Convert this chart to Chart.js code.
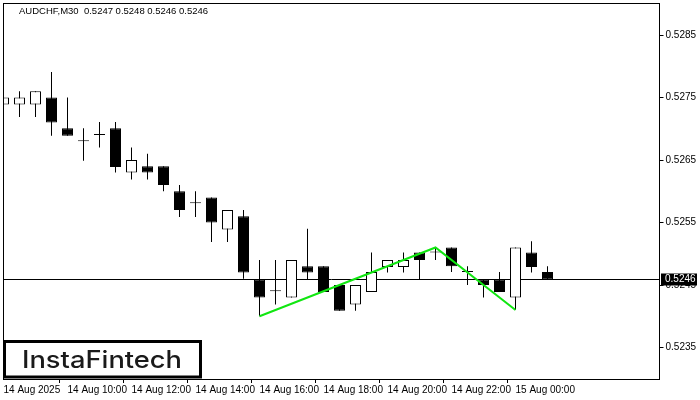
<!DOCTYPE html>
<html>
<head>
<meta charset="utf-8">
<script src="https://cdn.jsdelivr.net/npm/chart.js@4.4.1/dist/chart.umd.min.js"></script>
<style>
  html, body { margin: 0; padding: 0; background: #fff; }
  canvas { display: block; }
</style>
</head>
<body>
<canvas id="chart" width="700" height="400"></canvas>
<script>
const symbolTitle = "AUDCHF,M30  0.5247 0.5248 0.5246 0.5246";
const logoText = "InstaFintech";

// one label every 4 bars (2 hours of M30)
const xTickLabels = [
  "14 Aug 2025", "14 Aug 10:00", "14 Aug 12:00", "14 Aug 14:00", "14 Aug 16:00",
  "14 Aug 18:00", "14 Aug 20:00", "14 Aug 22:00", "15 Aug 00:00"
];
const barsPerLabel = 4;
const slotCount = 42;

const opens = [
  0.52739, 0.52739, 0.52739, 0.52750, 0.52701, 0.52680, 0.52690, 0.52701, 0.52630, 0.52640,
  0.52640, 0.52600, 0.52581, 0.52590, 0.52539, 0.52560, 0.52459, 0.52440, 0.52430, 0.52480,
  0.52480, 0.52450, 0.52419, 0.52439, 0.52479, 0.52479, 0.52502, 0.52502, 0.52510, 0.52471,
  0.52459, 0.52459, 0.52430, 0.52502, 0.52471
];
const highs = [
  0.52781, 0.52760, 0.52760, 0.52791, 0.52750, 0.52701, 0.52711, 0.52711, 0.52670, 0.52660,
  0.52640, 0.52610, 0.52600, 0.52590, 0.52570, 0.52570, 0.52490, 0.52490, 0.52490, 0.52540,
  0.52480, 0.52450, 0.52450, 0.52502, 0.52490, 0.52502, 0.52502, 0.52510, 0.52510, 0.52480,
  0.52459, 0.52471, 0.52510, 0.52520, 0.52480
];
const lows = [
  0.52739, 0.52719, 0.52719, 0.52689, 0.52689, 0.52649, 0.52670, 0.52630, 0.52619, 0.52619,
  0.52600, 0.52559, 0.52559, 0.52519, 0.52519, 0.52460, 0.52400, 0.52419, 0.52430, 0.52459,
  0.52439, 0.52409, 0.52409, 0.52439, 0.52470, 0.52470, 0.52459, 0.52490, 0.52471, 0.52450,
  0.52430, 0.52439, 0.52410, 0.52470, 0.52459
];
const closes = [
  0.52750, 0.52750, 0.52760, 0.52710, 0.52689, 0.52680, 0.52690, 0.52639, 0.52650, 0.52630,
  0.52610, 0.52570, 0.52581, 0.52550, 0.52570, 0.52470, 0.52430, 0.52440, 0.52490, 0.52470,
  0.52439, 0.52409, 0.52450, 0.52471, 0.52490, 0.52490, 0.52490, 0.52502, 0.52480, 0.52471,
  0.52450, 0.52439, 0.52510, 0.52479, 0.52459
];

// pattern (green) line: bar index and price
const patternBars = [16, 27, 32];
const patternPrices = [0.52400, 0.52510, 0.52410];

const yTicks = [0.5235, 0.5245, 0.5255, 0.5265, 0.5275, 0.5285];
const yMin = 0.522996;
const yMax = 0.529012;
const lastPrice = 0.52459;

const slotLabels = [];
for (let i = 0; i < slotCount; i++) {
  slotLabels.push(i % barsPerLabel === 0 ? (xTickLabels[i / barsPerLabel] || "") : "");
}

const wickData = lows.map((l, i) => [l, highs[i]]);
const bodyData = opens.map((o, i) => [o, closes[i]]);
const bodyFill = opens.map((o, i) => (closes[i] > o ? "#ffffff" : "#000000"));
const patternData = slotLabels.map(() => null);
patternBars.forEach((b, k) => { patternData[b] = patternPrices[k]; });

const axisFont = { family: "Liberation Sans", size: 10 };

const mtDecor = {
  id: "mtDecor",
  beforeDatasetsDraw(chart) {
    const { ctx, chartArea } = chart;
    const py = Math.floor(chart.scales.y.getPixelForValue(lastPrice)) + 0.5;
    ctx.save();
    ctx.strokeStyle = "#000";
    ctx.lineWidth = 1;
    ctx.beginPath();
    ctx.moveTo(chartArea.left, py);
    ctx.lineTo(chartArea.right, py);
    ctx.stroke();
    ctx.restore();
  },
  afterDraw(chart) {
    const { ctx, chartArea } = chart;
    ctx.save();
    // frame
    ctx.strokeStyle = "#000";
    ctx.lineWidth = 1;
    ctx.strokeRect(chartArea.left, chartArea.top + 0.5, chartArea.right - chartArea.left, chartArea.bottom - chartArea.top);

    // title
    ctx.fillStyle = "#000";
    ctx.font = "9.5px 'Liberation Sans'";
    ctx.textBaseline = "middle";
    ctx.textAlign = "left";
    ctx.fillText(symbolTitle, 19, 11);

    // logo
    ctx.fillStyle = "#fff";
    ctx.fillRect(4.5, 341.5, 196, 35.5);
    ctx.lineWidth = 3;
    ctx.strokeStyle = "#000";
    ctx.strokeRect(4.5, 341.5, 196, 35.5);
    ctx.fillStyle = "#1a1a1a";
    ctx.font = "500 24px Inter";
    ctx.textBaseline = "alphabetic";
    const w = ctx.measureText(logoText).width;
    ctx.translate(22, 368);
    ctx.scale(160 / w, 1);
    ctx.fillText(logoText, 0, 0);
    ctx.setTransform(1, 0, 0, 1, 0, 0);

    // current price box
    const py = Math.floor(chart.scales.y.getPixelForValue(lastPrice)) + 0.5;
    ctx.fillStyle = "#000";
    ctx.fillRect(661, py - 6, 36, 12);
    ctx.fillStyle = "#fff";
    ctx.font = "10px 'Liberation Sans'";
    ctx.textBaseline = "middle";
    ctx.fillText(lastPrice.toFixed(4), 665, py);
    ctx.restore();
  }
};

new Chart(document.getElementById("chart"), {
  type: "bar",
  data: {
    labels: slotLabels,
    datasets: [
      {
        type: "line",
        data: patternData,
        borderColor: "#11e611",
        borderWidth: 2,
        pointRadius: 0,
        spanGaps: true,
        order: 0
      },
      {
        data: bodyData,
        backgroundColor: bodyFill,
        borderColor: "#000",
        borderWidth: 1,
        borderSkipped: false,
        barThickness: 11,
        minBarLength: 1,
        inflateAmount: 0,
        grouped: false,
        order: 1
      },
      {
        data: wickData,
        backgroundColor: "#000",
        borderWidth: 0,
        barThickness: 1,
        inflateAmount: 0,
        grouped: false,
        order: 2
      }
    ]
  },
  options: {
    responsive: false,
    animation: false,
    devicePixelRatio: 1,
    layout: { padding: { left: 3.5, top: 3, right: 0, bottom: 0 } },
    plugins: { legend: { display: false }, tooltip: { enabled: false } },
    scales: {
      x: {
        offset: false,
        grid: {
          drawOnChartArea: false,
          tickLength: 4,
          color: (c) => (slotLabels[c.index] ? "#000" : "rgba(0,0,0,0)")
        },
        border: { display: false },
        ticks: {
          autoSkip: false,
          maxRotation: 0,
          align: "start",
          padding: 1,
          color: "#000",
          font: axisFont
        },
        afterFit: (s) => { s.height = 21; s.paddingLeft = 0; s.paddingRight = 0; }
      },
      y: {
        position: "right",
        min: yMin,
        max: yMax,
        grid: { drawOnChartArea: false, tickLength: 4, color: "#000" },
        border: { display: false },
        ticks: {
          padding: 2,
          color: "#000",
          font: axisFont,
          callback: (v) => v.toFixed(4)
        },
        afterBuildTicks: (s) => { s.ticks = yTicks.map((v) => ({ value: v })); },
        afterFit: (s) => { s.width = 40.5; s.paddingTop = 0; s.paddingBottom = 0; }
      }
    }
  },
  plugins: [mtDecor]
});
</script>
</body>
</html>
